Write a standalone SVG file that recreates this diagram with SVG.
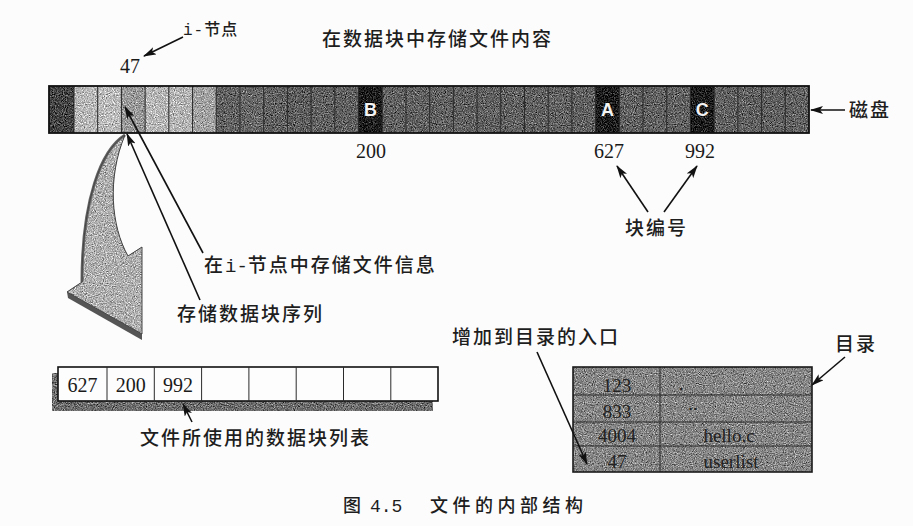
<svg xmlns="http://www.w3.org/2000/svg" width="913" height="526" viewBox="0 0 913 526">
  <style>
    .cjk { font-family: "Noto Sans CJK SC", "Noto Sans", sans-serif; fill: #1e1e1e; font-weight: 500; }
    .lbl { font-size: 19px; letter-spacing: 2px; }
    .num { font-family: "Liberation Serif", "Times New Roman", serif; font-size: 20px; fill: #1a1a1a; }
    .tnum { font-family: "Liberation Serif", "Times New Roman", serif; font-size: 19px; fill: #222; text-anchor: middle; }
    .key { font-family: "Liberation Sans", Arial, sans-serif; font-size: 18px; font-weight: bold; fill: #f4f4f4; text-anchor: middle; }
    .lt { fill: #b9b9b9; }
    .dk { fill: #626262; }
    .bk { fill: #1d1d1d; }
    .grid { fill: none; stroke: #2a2a2a; stroke-width: 1; }
    .edge { fill: none; stroke: #111; stroke-width: 1.8; }
    .conn { fill: none; stroke: #111; stroke-width: 1.6; marker-end: url(#ah); }
  </style>
  <defs>
    <marker id="ah" viewBox="0 0 13 8" refX="12" refY="4" markerWidth="13" markerHeight="8" markerUnits="userSpaceOnUse" orient="auto">
      <path d="M0,0 L13,4 L0,8 L3,4 Z" fill="#111"/>
    </marker>
    <!-- halftone-like speckle for the printed grey fills -->
    <filter id="grain" x="-2%" y="-5%" width="104%" height="110%" color-interpolation-filters="sRGB">
      <feTurbulence type="fractalNoise" baseFrequency="0.9" numOctaves="2" seed="4" result="t"/>
      <feColorMatrix in="t" type="matrix" values="0.33 0.33 0.33 0 0  0.33 0.33 0.33 0 0  0.33 0.33 0.33 0 0  0 0 0 0 1" result="g"/>
      <feComposite in="SourceGraphic" in2="g" operator="arithmetic" k1="0" k2="1" k3="1.6" k4="-0.8" result="m"/>
      <feComposite in="m" in2="SourceAlpha" operator="in"/>
    </filter>
  </defs>

  <rect width="913" height="526" fill="#fcfcfc"/>

  <!-- disk: a row of blocks -->
  <g id="disk">
    <g filter="url(#grain)">
      <rect x="49" y="86" width="760" height="47" class="dk"/>
      <rect x="49" y="86" width="25" height="47" fill="#464646"/>
      <rect x="74" y="86" width="23.71" height="47" class="lt"/>
      <rect x="97.71" y="86" width="23.71" height="47" fill="#bcbcbc"/>
      <rect x="121.42" y="86" width="23.71" height="47" fill="#9a9a9a"/>
      <rect x="145.13" y="86" width="23.71" height="47" fill="#b8b8b8"/>
      <rect x="168.84" y="86" width="23.71" height="47" fill="#b6b6b6"/>
      <rect x="192.55" y="86" width="23.71" height="47" fill="#a4a4a4"/>
      <rect x="239.97" y="86" width="23.71" height="47" fill="#686868"/>
      <rect x="287.39" y="86" width="23.71" height="47" fill="#5e5e5e"/>
      <rect x="358.52" y="86" width="23.71" height="47" class="bk"/>
      <rect x="595.62" y="86" width="23.71" height="47" class="bk"/>
      <rect x="690.46" y="86" width="23.71" height="47" class="bk"/>
    </g>
    <path class="grid" d="M74,86V133 M97.71,86V133 M121.42,86V133 M145.13,86V133 M168.84,86V133 M192.55,86V133 M216.26,86V133 M239.97,86V133 M263.68,86V133 M287.39,86V133 M311.1,86V133 M334.81,86V133 M358.52,86V133 M382.23,86V133 M405.94,86V133 M429.65,86V133 M453.36,86V133 M477.07,86V133 M500.78,86V133 M524.49,86V133 M548.2,86V133 M571.91,86V133 M595.62,86V133 M619.33,86V133 M643.04,86V133 M666.75,86V133 M690.46,86V133 M714.17,86V133 M737.88,86V133 M761.59,86V133 M785.3,86V133"/>
    <rect x="49" y="86" width="760" height="47" class="edge"/>
    <text class="key" x="370.4" y="116">B</text>
    <text class="key" x="607.5" y="116">A</text>
    <text class="key" x="702.3" y="116">C</text>
  </g>

  <!-- large curved arrow from the i-node down to the block list -->
  <g id="flow-arrow">
    <path filter="url(#grain)" d="M125,135 C101,150 82,200 82,282 L67,292 L142,334 L142,247 L128,256 C111,226 107,178 125,135 Z" fill="#b0b0b0"/>
    <path d="M67,292 L142,334 L142,340 L68,298 Z" fill="#555"/>
    <path d="M125,135 C101,150 82,200 82,282" fill="none" stroke="#666" stroke-width="3"/>
    <path d="M125,135 C101,150 82,200 82,282 L67,292 L142,334 L142,247 L128,256 C111,226 107,178 125,135 Z" fill="none" stroke="#444" stroke-width="1"/>
  </g>

  <!-- block list of the file -->
  <g id="block-list">
    <rect filter="url(#grain)" x="52" y="373" width="381" height="38" fill="#6e6e6e"/>
    <rect x="58" y="367" width="380" height="34" fill="#fdfdfd" stroke="#111" stroke-width="1.6"/>
    <path class="grid" d="M107,367V401 M154.3,367V401 M201.6,367V401 M248.9,367V401 M296.2,367V401 M343.5,367V401 M390.8,367V401"/>
    <text class="num" x="82.5" y="392" text-anchor="middle">627</text>
    <text class="num" x="130.7" y="392" text-anchor="middle">200</text>
    <text class="num" x="178" y="392" text-anchor="middle">992</text>
  </g>

  <!-- directory table -->
  <g id="directory">
    <rect filter="url(#grain)" x="573" y="367" width="239" height="105" fill="#878787"/>
    <path class="grid" d="M660,367V472 M573,395H812 M573,422H812 M573,446H812" stroke-width="1.3"/>
    <rect x="573" y="367" width="239" height="105" fill="none" stroke="#1a1a1a" stroke-width="1.6"/>
    <text class="tnum" x="617" y="392">123</text>
    <text class="tnum" x="617" y="418">833</text>
    <text class="tnum" x="617" y="442">4004</text>
    <text class="tnum" x="617" y="468">47</text>
    <text class="tnum" x="681" y="390" fill="#444">.</text>
    <text class="tnum" x="693" y="410" fill="#555">..</text>
    <text class="tnum" x="729" y="442">hello.c</text>
    <text class="tnum" x="731" y="468">userlist</text>
  </g>

  <!-- labels -->
  <g id="labels">
    <text class="cjk lbl" x="322" y="45.5">在数据块中存储文件内容</text>
    <text class="cjk" x="183" y="35" font-size="16" letter-spacing="1"><tspan font-family="Liberation Mono, monospace">i-</tspan>节点</text>
    <text class="num" x="120" y="73">47</text>
    <text class="cjk lbl" x="849" y="117" letter-spacing="3">磁盘</text>
    <text class="num" x="371" y="158" text-anchor="middle">200</text>
    <text class="num" x="609" y="158" text-anchor="middle">627</text>
    <text class="num" x="700" y="158" text-anchor="middle">992</text>
    <text class="cjk lbl" x="625" y="235" letter-spacing="1">块编号</text>
    <text class="cjk lbl" x="204" y="272" letter-spacing="1.5">在<tspan font-family="Liberation Mono, monospace" letter-spacing="0">i-</tspan>节点中存储文件信息</text>
    <text class="cjk lbl" x="177" y="321">存储数据块序列</text>
    <text class="cjk lbl" x="452" y="344" letter-spacing="1.5">增加到目录的入口</text>
    <text class="cjk lbl" x="835" y="351">目录</text>
    <text class="cjk lbl" x="140" y="445" font-size="20" letter-spacing="1">文件所使用的数据块列表</text>
    <text class="cjk" x="343" y="512" font-size="18">图<tspan x="370" font-family="Liberation Mono, monospace" font-size="18">4.5</tspan><tspan x="430" letter-spacing="4.5">文件的内部结构</tspan></text>
  </g>

  <!-- connectors -->
  <g id="connectors">
    <line class="conn" x1="183" y1="37" x2="144" y2="56"/>
    <line class="conn" x1="845" y1="110" x2="811" y2="110"/>
    <line class="conn" x1="648" y1="212" x2="617" y2="166"/>
    <line class="conn" x1="664" y1="212" x2="697" y2="166"/>
    <line class="conn" x1="203" y1="253" x2="125" y2="107"/>
    <line class="conn" x1="200" y1="300" x2="127" y2="134"/>
    <line class="conn" x1="192" y1="422" x2="183" y2="404"/>
    <line class="conn" x1="537" y1="352" x2="587" y2="464"/>
    <line class="conn" x1="845" y1="357" x2="812" y2="385"/>
  </g>
</svg>
